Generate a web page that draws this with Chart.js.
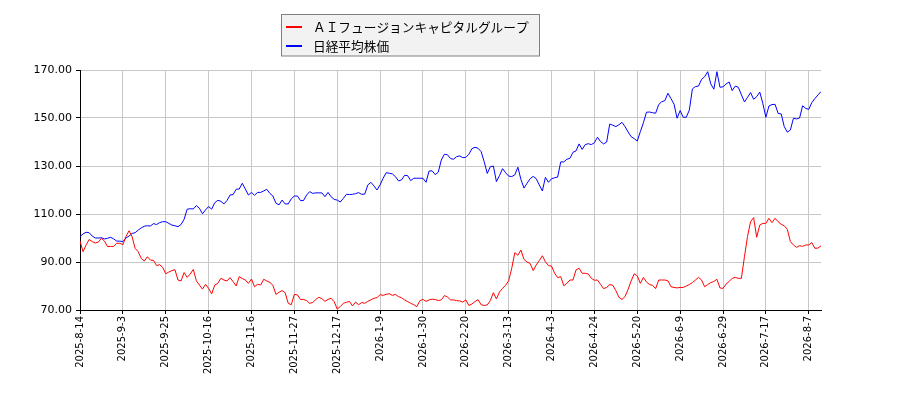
<!DOCTYPE html>
<html>
<head>
<meta charset="utf-8">
<script src="https://cdn.jsdelivr.net/npm/chart.js@4.4.1/dist/chart.umd.min.js"></script>
<style>
  html, body { margin: 0; padding: 0; background: #ffffff; }
  #chart { display: block; }
</style>
</head>
<body>
<canvas id="chart" width="900" height="400"></canvas>
<script>
// tick labels on the x axis (every 14 trading days)
let tickLabels = ["2025-8-14", "2025-9-3", "2025-9-25", "2025-10-16", "2025-11-6", "2025-11-27",
    "2025-12-17", "2026-1-9", "2026-1-30", "2026-2-20", "2026-3-13", "2026-4-3",
    "2026-4-24", "2026-5-20", "2026-6-9", "2026-6-29", "2026-7-17", "2026-8-7"];
let tickStep = 14;

let seriesNames = ["ＡＩフュージョンキャピタルグループ", "日経平均株価"];

// ＡＩフュージョンキャピタルグループ (relative, start = 100)
let aiFusion = [
    98.7, 94.3, 97.1, 99.4, 98.5, 97.9, 98.3, 99.9, 98.7, 96.4, 96.5, 96.5, 97.8, 97.8,
    97.2, 100.6, 103.0, 100.6, 95.7, 94.3, 91.5, 90.4, 92.2, 90.8, 90.7, 88.5, 88.9, 87.8,
    85.1, 85.8, 86.4, 86.8, 82.5, 82.1, 85.6, 83.6, 85.0, 86.9, 82.2, 80.4, 78.7, 80.7,
    79.0, 76.7, 80.4, 81.1, 83.2, 82.5, 82.1, 83.5, 81.8, 80.0, 83.9, 83.1, 82.5, 81.1,
    82.9, 79.7, 80.7, 80.4, 82.8, 82.1, 81.5, 80.3, 76.5, 77.4, 78.1, 77.2, 72.8, 72.2,
    76.5, 76.3, 74.4, 74.4, 73.9, 72.8, 73.1, 74.4, 75.3, 74.7, 73.6, 74.4, 74.9, 73.5,
    70.4, 71.4, 72.8, 73.2, 73.6, 71.7, 73.3, 72.2, 73.1, 72.8, 73.6, 74.2, 74.9, 75.1,
    76.4, 76.1, 76.5, 76.8, 76.1, 76.5, 75.6, 75.1, 74.2, 73.5, 72.8, 72.2, 71.4, 73.9,
    74.4, 73.6, 74.2, 74.5, 74.4, 73.9, 74.2, 76.0, 75.4, 74.2, 74.2, 73.9, 73.8, 73.3,
    74.2, 71.9, 72.5, 73.5, 74.3, 72.2, 71.9, 72.1, 73.9, 77.2, 74.6, 77.5, 79.0, 80.3,
    82.2, 87.4, 93.9, 92.8, 95.0, 91.1, 90.0, 89.4, 86.4, 88.8, 90.6, 92.6, 90.1, 88.5,
    88.3, 85.3, 83.5, 83.9, 80.1, 81.1, 82.5, 82.5, 86.7, 87.4, 85.3, 85.3, 85.0, 83.2,
    82.4, 82.5, 80.7, 78.9, 79.4, 80.6, 80.3, 78.1, 75.3, 74.4, 75.6, 78.6, 82.1, 85.1,
    84.2, 81.1, 83.6, 81.7, 80.6, 80.3, 78.9, 82.5, 82.5, 82.5, 82.2, 79.7, 79.4, 79.2,
    79.4, 79.4, 80.0, 80.6, 81.4, 82.5, 83.6, 82.5, 79.7, 80.6, 81.4, 81.9, 82.8, 79.2,
    79.0, 80.8, 81.9, 83.2, 83.6, 83.2, 83.2, 92.2, 100.6, 106.8, 108.5, 100.3, 105.4, 106.1,
    106.1, 108.2, 106.4, 108.2, 106.8, 105.7, 105.1, 103.6, 98.5, 97.1, 96.1, 96.8, 96.5, 97.1,
    97.1, 98.1, 95.7, 95.8, 96.7
];

// 日経平均株価 (relative, start = 100)
let nikkei = [
    100.6, 101.7, 102.4, 102.2, 100.8, 100.0, 100.0, 100.1, 99.6, 99.9, 100.3, 99.6, 98.7, 98.7,
    98.5, 100.0, 100.8, 101.9, 102.2, 103.3, 104.2, 104.9, 105.1, 105.0, 106.0, 105.6, 106.4, 106.8,
    106.8, 106.1, 105.4, 105.1, 104.7, 105.6, 107.8, 112.0, 112.2, 112.1, 113.5, 112.4, 110.1, 111.7,
    113.1, 112.0, 114.7, 115.7, 115.3, 114.2, 115.6, 117.9, 118.1, 120.3, 120.4, 122.8, 120.4, 117.9,
    119.0, 117.8, 119.0, 119.0, 119.6, 120.3, 118.6, 117.5, 114.5, 113.8, 115.8, 114.2, 114.2, 116.3,
    117.5, 117.5, 115.6, 115.6, 117.9, 119.3, 118.6, 118.8, 118.8, 118.8, 117.2, 119.0, 117.2, 116.1,
    115.8, 115.0, 116.5, 118.2, 118.1, 118.2, 118.5, 118.9, 118.2, 118.3, 122.1, 123.2, 121.7, 120.0,
    122.1, 124.9, 127.2, 127.0, 126.7, 125.6, 123.8, 124.2, 126.1, 126.0, 123.9, 124.9, 124.9, 124.9,
    124.9, 123.2, 127.9, 128.0, 126.4, 127.4, 132.5, 134.9, 134.7, 133.1, 132.8, 133.9, 134.2, 133.5,
    133.6, 134.9, 137.2, 137.8, 137.4, 136.0, 131.8, 126.9, 129.7, 130.0, 123.5, 126.0, 128.9, 127.2,
    125.8, 125.6, 126.3, 129.5, 124.4, 120.8, 122.8, 124.7, 125.7, 124.7, 122.1, 119.6, 125.3, 123.2,
    124.7, 125.1, 125.4, 131.7, 131.7, 132.8, 133.2, 135.7, 136.3, 139.2, 136.9, 138.9, 139.3, 138.9,
    139.7, 142.0, 140.2, 139.2, 140.0, 147.5, 147.0, 146.4, 147.2, 148.2, 146.4, 144.2, 142.2, 141.4,
    140.4, 144.3, 148.0, 152.4, 152.5, 152.2, 152.0, 155.6, 156.8, 157.2, 160.3, 158.1, 155.8, 149.9,
    153.1, 150.3, 150.3, 153.3, 162.1, 163.1, 163.3, 166.1, 167.2, 169.3, 164.2, 162.0, 169.3, 162.8,
    163.0, 164.2, 165.0, 161.4, 163.3, 162.8, 159.7, 156.7, 158.6, 160.6, 157.8, 158.9, 160.8, 156.1,
    150.3, 155.0, 155.6, 155.7, 151.9, 151.7, 146.4, 144.1, 145.0, 149.9, 149.6, 150.0, 155.1, 154.0,
    153.6, 156.4, 158.1, 159.6, 161.0
];

let yMin = 70, yMax = 170, yStep = 20;

function toPoints(values) {
    return values.map((v, i) => ({ x: i, y: v }));
}

// Legend drawn as a boxed list in the top middle
let boxLegend = {
    id: "boxLegend",
    afterDraw(chart) {
        let c = chart.ctx;
        c.save();
        c.fillStyle = "#f2f2f2";
        c.strokeStyle = "#808080";
        c.lineWidth = 1;
        c.fillRect(281.5, 14.5, 258, 41.5);
        c.strokeRect(281.5, 14.5, 258, 41.5);
        c.font = "12.7px 'Noto Sans CJK JP'";
        c.textBaseline = "middle";
        chart.data.datasets.forEach((ds, k) => {
            let y = 27 + k * 19;
            c.strokeStyle = ds.borderColor;
            c.lineWidth = 2;
            c.beginPath();
            c.moveTo(286, y);
            c.lineTo(302, y);
            c.stroke();
            c.fillStyle = "#000";
            c.fillText(ds.label, 313, y);
        });
        c.restore();
    }
};

let ctx = document.getElementById("chart").getContext("2d");
let chart = new Chart(ctx, {
    type: "line",
    data: {
        datasets: [{
            label: seriesNames[0],
            data: toPoints(aiFusion),
            borderColor: "#ff0000",
            borderWidth: 1,
            pointRadius: 0,
            tension: 0,
            fill: false
        }, {
            label: seriesNames[1],
            data: toPoints(nikkei),
            borderColor: "#0000ff",
            borderWidth: 1,
            pointRadius: 0,
            tension: 0,
            fill: false
        }]
    },
    options: {
        responsive: false,
        animation: false,
        devicePixelRatio: 1,
        layout: { padding: { left: 0, right: 79, top: 70, bottom: 0 } },
        plugins: {
            legend: { display: false },
            tooltip: { enabled: false }
        },
        scales: {
            x: {
                type: "linear",
                min: 0,
                max: aiFusion.length - 1,
                afterBuildTicks: (axis) => {
                    axis.ticks = tickLabels.map((_, k) => ({ value: k * tickStep }));
                },
                afterFit: (axis) => { axis.height = 90; },
                ticks: {
                    autoSkip: false,
                    minRotation: 90,
                    maxRotation: 90,
                    padding: 2,
                    color: "#000",
                    font: { family: "'DejaVu Sans'", size: 10 },
                    callback: (value) => tickLabels[Math.round(value / tickStep)]
                },
                grid: { color: "#c8c8c8", tickColor: "#000", tickLength: 4 },
                border: { color: "#000", width: 1 }
            },
            y: {
                min: yMin,
                max: yMax,
                afterFit: (axis) => { axis.width = 80; },
                ticks: {
                    stepSize: yStep,
                    padding: 4,
                    color: "#000",
                    font: { family: "'DejaVu Sans'", size: 11 },
                    callback: (value) => value.toFixed(2)
                },
                grid: { color: "#c8c8c8", tickColor: "#000", tickLength: 4 },
                border: { color: "#000", width: 1 }
            }
        }
    },
    plugins: [boxLegend]
});
</script>
</body>
</html>
